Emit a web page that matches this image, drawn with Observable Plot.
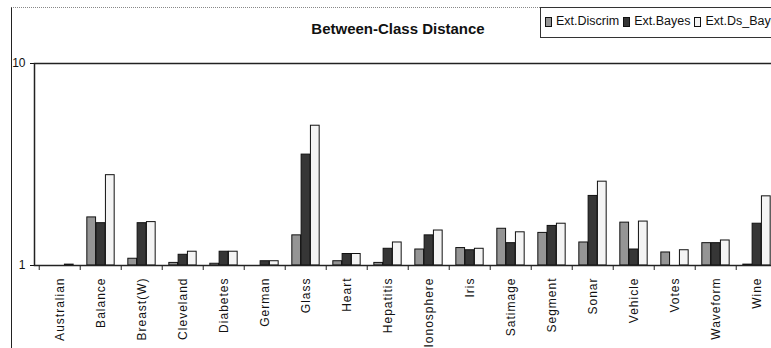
<!DOCTYPE html>
<html><head><meta charset="utf-8">
<script src="https://cdn.jsdelivr.net/npm/d3@7"></script>
<script src="https://cdn.jsdelivr.net/npm/@observablehq/plot@0.6"></script>
<style>
html,body{margin:0;padding:0;background:#fff;overflow:hidden;}
#wrap{position:relative;width:771px;height:348px;overflow:hidden;font-family:"Liberation Sans",Arial,sans-serif;color:#111;}
#border{position:absolute;left:11px;top:7px;width:800px;height:400px;border-left:1px solid #222;border-top:1px dotted #888;}
#chart{position:absolute;left:0;top:0;width:800px;}
#chart svg{max-width:none !important;}
#title{position:absolute;left:248px;width:300px;top:20px;text-align:center;font-weight:bold;font-size:15px;line-height:17px;}
#legend{position:absolute;left:540px;top:7px;width:300px;height:31px;border:1px solid #333;box-sizing:border-box;display:flex;align-items:center;padding-left:4px;padding-bottom:3px;font-size:12.5px;line-height:14px;}
#legend .sw{width:5px;height:8px;border:1px solid #111;margin-right:4px;flex:none;margin-top:2px;}
#legend .lb{margin-right:4px;white-space:nowrap;}
#chart g[aria-label="x-axis tick label"] text{letter-spacing:1px;}
</style>
</head><body>
<div id="wrap">
  <div id="border"></div>
  <div id="chart"></div>
  <div id="title">Between-Class Distance</div>
  <div id="legend"></div>
</div>
<script>
const categories = ["Australian","Balance","Breast(W)","Cleveland","Diabetes","German","Glass","Heart","Hepatitis","Ionosphere","Iris","Satimage","Segment","Sonar","Vehicle","Votes","Waveform","Wine"];
const seriesNames = ["Ext.Discrim","Ext.Bayes","Ext.Ds_Bayes"];
const extDiscrim = [1.00, 1.73, 1.08, 1.03, 1.02, 1.00, 1.41, 1.05, 1.03, 1.20, 1.22, 1.52, 1.45, 1.30, 1.63, 1.16, 1.29, 1.01];
const extBayes   = [1.00, 1.62, 1.62, 1.13, 1.17, 1.05, 3.54, 1.14, 1.21, 1.41, 1.19, 1.29, 1.57, 2.21, 1.20, 1.00, 1.29, 1.61];
const extDsBayes = [1.01, 2.80, 1.64, 1.17, 1.17, 1.05, 4.92, 1.14, 1.30, 1.49, 1.21, 1.46, 1.61, 2.60, 1.65, 1.19, 1.33, 2.20];
const seriesColors = ["#959595","#363636","#f4f4f4"];
const yTicks = [1, 10];
const titleText = "Between-Class Distance";

const seriesValues = [extDiscrim, extBayes, extDsBayes];
const table = categories.flatMap((c, i) => seriesNames.map((s, j) => ({category: c, series: s, value: seriesValues[j][i]})));

const W = 782, H = 348, ML = 34, MR = 0, MT = 63, MB = 83;
const bw = (W - ML - MR) / categories.length;
const barW = 9.3;

const barMarks = seriesNames.map((s, j) => Plot.barY(table.filter(d => d.series === s), {
  x: "category", y1: 1, y2: "value", fill: "series",
  stroke: "#111", strokeWidth: 1,
  insetLeft: (bw - barW) / 2 + (j - 1) * barW,
  insetRight: (bw - barW) / 2 - (j - 1) * barW
}));

const chart = Plot.plot({
  width: W, height: H,
  marginLeft: ML, marginRight: MR, marginTop: MT, marginBottom: MB,
  style: {fontFamily: "'Liberation Sans', Arial, sans-serif", fontSize: "12px", color: "#111", background: "transparent", maxWidth: "none"},
  x: {type: "band", domain: categories, padding: 0},
  y: {type: "log", domain: [1, 10]},
  color: {domain: seriesNames, range: seriesColors},
  marks: [
    ...barMarks,
    Plot.axisX({tickSize: 0, tickPadding: 12, tickRotate: -90, fontSize: 12, label: null}),
    Plot.axisX({tickSize: 5, tickFormat: () => "", dx: -bw / 2, stroke: "#222", label: null}),
    Plot.axisY({ticks: yTicks, tickFormat: d => String(d), tickSize: 4, tickPadding: 5, fontSize: 12, label: null}),
    Plot.frame({stroke: "#222", strokeWidth: 1.5})
  ]
});
document.getElementById("chart").appendChild(chart);
document.getElementById("title").textContent = titleText;

const legend = document.getElementById("legend");
seriesNames.forEach((s, j) => {
  const sw = document.createElement("span");
  sw.className = "sw"; sw.style.background = seriesColors[j];
  const lb = document.createElement("span");
  lb.className = "lb"; lb.textContent = s;
  legend.appendChild(sw); legend.appendChild(lb);
});
</script>
</body></html>
